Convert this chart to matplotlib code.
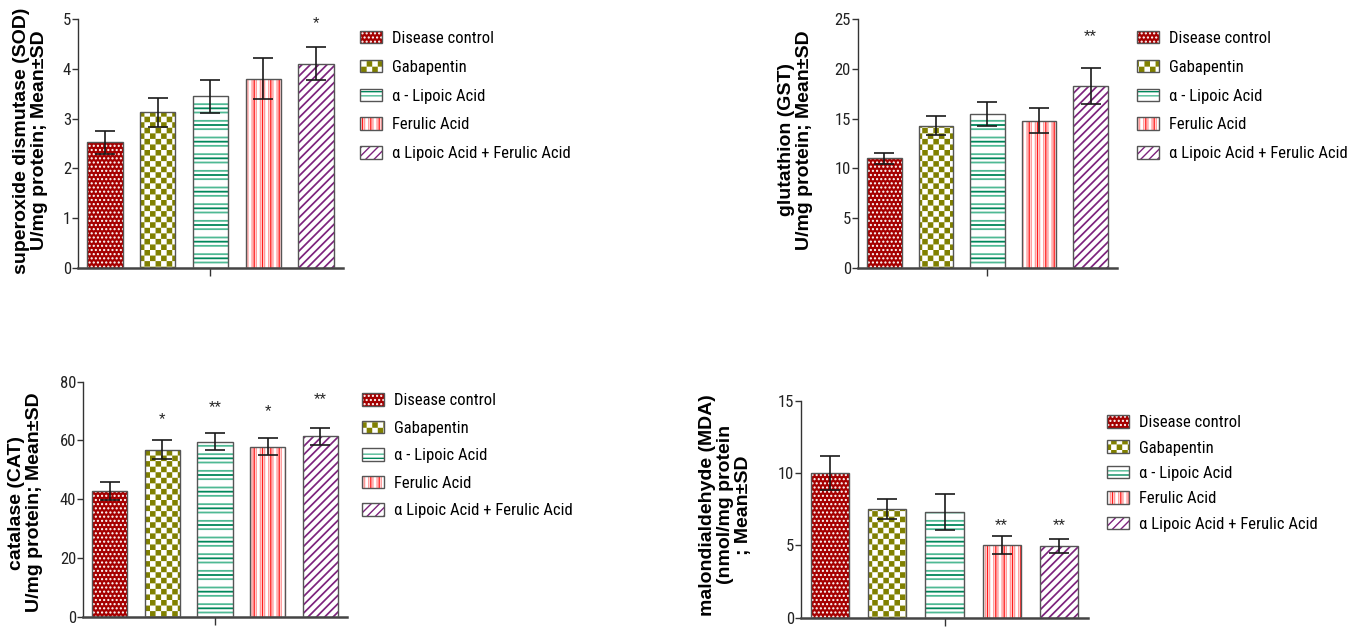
import matplotlib
matplotlib.use("Agg")
import matplotlib.pyplot as plt
import matplotlib.hatch as mhatch
import matplotlib.patches as mpatches
from matplotlib import font_manager
from matplotlib.path import Path


# checkerboard hatch, bound to '*' (the star hatch is not used here)
class CheckerHatch(mhatch.HatchPatternBase):
    def __init__(self, hatch, density):
        self.n = int(hatch.count("*") * density) // 2 * 2
        self.num_vertices = 5 * (self.n * self.n // 2)

    def set_vertices_and_codes(self, vertices, codes):
        s = 1.0 / self.n
        m = 0.007
        k = 0
        for i in range(self.n):
            for j in range(self.n):
                if (i + j) % 2 == 0:
                    x0, y0, x1, y1 = i * s + m, j * s + m, (i + 1) * s - m, (j + 1) * s - m
                    vertices[k:k + 5] = [(x0, y0), (x1, y0), (x1, y1), (x0, y1), (x0, y0)]
                    codes[k:k + 5] = [Path.MOVETO, Path.LINETO, Path.LINETO,
                                      Path.LINETO, Path.CLOSEPOLY]
                    k += 5


mhatch._hatch_types = [t for t in mhatch._hatch_types if t.__name__ != "Stars"] + [CheckerHatch]

# a narrow sans for ticks and legends, if one is installed
narrow = None
for f in font_manager.fontManager.ttflist:
    if f.weight not in (400, "normal", "regular", "book"):
        continue
    if "Narrow" in f.name or "Condensed" in f.name or f.stretch in ("condensed", "semi-condensed"):
        rank = 0 if "Liberation" in f.name else 1 if "Roboto" in f.name else 2
        if narrow is None or rank < narrow[0]:
            narrow = (rank, f.name, f.stretch)

plt.rcParams["hatch.linewidth"] = 1.0
if narrow:
    plt.rcParams["font.family"] = [narrow[1], "Liberation Sans", "DejaVu Sans"]
    plt.rcParams["font.stretch"] = narrow[2]
    leg_size, tick_size = 12, 12
else:
    plt.rcParams["font.family"] = ["Liberation Sans", "DejaVu Sans"]
    leg_size, tick_size = 10.5, 11

groups = ["Disease control", "Gabapentin", "\u03b1 - Lipoic Acid", "Ferulic Acid",
          "\u03b1 Lipoic Acid + Ferulic Acid"]

sod_mean = [2.52, 3.13, 3.45, 3.80, 4.10]
sod_sd = [0.24, 0.29, 0.33, 0.41, 0.33]
sod_sig = ["", "", "", "", "*"]
sod_sig_y = [0, 0, 0, 0, 5.0]

gst_mean = [11.0, 14.3, 15.5, 14.8, 18.3]
gst_sd = [0.58, 0.96, 1.2, 1.27, 1.8]
gst_sig = ["", "", "", "", "**"]
gst_sig_y = [0, 0, 0, 0, 23.6]

cat_mean = [42.8, 56.9, 59.5, 57.9, 61.4]
cat_sd = [3.1, 3.3, 2.9, 2.9, 2.9]
cat_sig = ["", "*", "**", "*", "**"]
cat_sig_y = [0, 68.6, 72.7, 71.4, 75.4]

mda_mean = [10.0, 7.5, 7.3, 5.05, 4.98]
mda_sd = [1.2, 0.68, 1.24, 0.62, 0.48]
mda_sig = ["", "", "", "**", "**"]
mda_sig_y = [0, 0, 0, 6.65, 6.65]

# (facecolor, hatch colour, hatch, hatch linewidth) layers per group
styles = [
    [("#a50000", "white", "....", 1.0)],
    [("white", "#808000", "***", 1.0)],
    [("white", "#4fb994", "--", 1.3), ("none", "#00875a", "-", 1.3)],
    [("white", "#ff9a9a", "||||", 1.0), ("none", "#ff1a1a", "||", 1.0)],
    [("white", "#7d237d", "////", 1.25)],
]
outline = "#555555"

panels = [
    dict(mean=sod_mean, sd=sod_sd, sig=sod_sig, sig_y=sod_sig_y,
         rect=[0.0575, 0.5726, 0.1954, 0.3971], yticks=[0, 1, 2, 3, 4, 5],
         ylabel="superoxide dismutase (SOD)\nU/mg protein; Mean\u00b1SD",
         labelx=-0.113, labely=0.512, leg=(0.2655, 0.951), lspace=0.83),
    dict(mean=gst_mean, sd=gst_sd, sig=gst_sig, sig_y=gst_sig_y,
         rect=[0.6327, 0.5726, 0.1910, 0.3971], yticks=[0, 5, 10, 15, 20, 25],
         ylabel="glutathion (GST)\nU/mg protein; Mean\u00b1SD",
         labelx=-0.174, labely=0.515, leg=(0.8385, 0.951), lspace=0.83),
    dict(mean=cat_mean, sd=cat_sd, sig=cat_sig, sig_y=cat_sig_y,
         rect=[0.0612, 0.0164, 0.1947, 0.3748], yticks=[0, 20, 40, 60, 80],
         ylabel="catalase (CAT)\nU/mg protein; Mean\u00b1SD",
         labelx=-0.152, labely=0.486, leg=(0.267, 0.3726), lspace=0.74),
    dict(mean=mda_mean, sd=mda_sd, sig=mda_sig, sig_y=mda_sig_y,
         rect=[0.5907, 0.0145, 0.2117, 0.3466], yticks=[0, 5, 10, 15],
         ylabel="malondialdehyde (MDA)\n(nmol/mg protein\n; Mean\u00b1SD",
         labelx=-0.172, labely=0.52, leg=(0.8165, 0.338), lspace=0.62),
]


def styled(patch, lw):
    if hasattr(patch, "set_hatch_linewidth"):
        patch.set_hatch_linewidth(lw)
    return patch


fig = plt.figure(figsize=(13.56, 6.27), dpi=100)
x = list(range(len(groups)))

for p in panels:
    ax = fig.add_axes(p["rect"])
    for i, layers in enumerate(styles):
        for face, hc, h, hlw in layers:
            bars = ax.bar(x[i], p["mean"][i], width=0.67, color=face, edgecolor=hc,
                          hatch=h, linewidth=0, zorder=2)
            for b in bars:
                styled(b, hlw)
    ax.bar(x, p["mean"], width=0.67, fill=False, edgecolor=outline, linewidth=1.0, zorder=3)
    ax.errorbar(x, p["mean"], yerr=p["sd"], fmt="none", ecolor="#1a1a1a",
                elinewidth=1.2, capsize=7.5, capthick=1.2, zorder=4)
    for i, s in enumerate(p["sig"]):
        if s:
            ax.annotate(s, (x[i], p["sig_y"][i]), xytext=(0, -3), textcoords="offset points",
                        ha="center", va="center", fontsize=12, family="Liberation Sans",
                        color="#222222")

    ax.set_xlim(-0.51, 4.51)
    ax.set_ylim(0, p["yticks"][-1])
    ax.set_yticks(p["yticks"])
    ax.set_xticks([2])
    ax.set_xticklabels([""])
    for side in ("top", "right"):
        ax.spines[side].set_visible(False)
    ax.spines["left"].set_color("#333333")
    ax.spines["left"].set_linewidth(1.0)
    ax.spines["bottom"].set_color("#444444")
    ax.spines["bottom"].set_linewidth(1.8)
    ax.tick_params(axis="y", length=4, width=1, pad=1, labelsize=tick_size,
                   color="#333333", labelcolor="#222222")
    ax.tick_params(axis="x", length=6, width=1, color="#333333")
    ax.set_ylabel(p["ylabel"], fontsize=14, fontweight="bold", fontstretch="normal",
                  family="Liberation Sans", linespacing=1.05)
    ax.yaxis.set_label_coords(p["labelx"], p["labely"])

    handles = []
    for layers in styles:
        parts = [styled(mpatches.Patch(facecolor=f, edgecolor=hc, hatch=h, linewidth=0), hlw)
                 for f, hc, h, hlw in layers]
        parts.append(mpatches.Patch(fill=False, edgecolor=outline, linewidth=1.0))
        handles.append(tuple(parts))
    ax.legend(handles, groups, loc="upper left", bbox_to_anchor=p["leg"],
              bbox_transform=fig.transFigure, frameon=False, fontsize=leg_size,
              borderpad=0, borderaxespad=0, handlelength=1.32, handleheight=0.78,
              handletextpad=0.6, labelspacing=p["lspace"])

fig.savefig("out.png", dpi=100)
